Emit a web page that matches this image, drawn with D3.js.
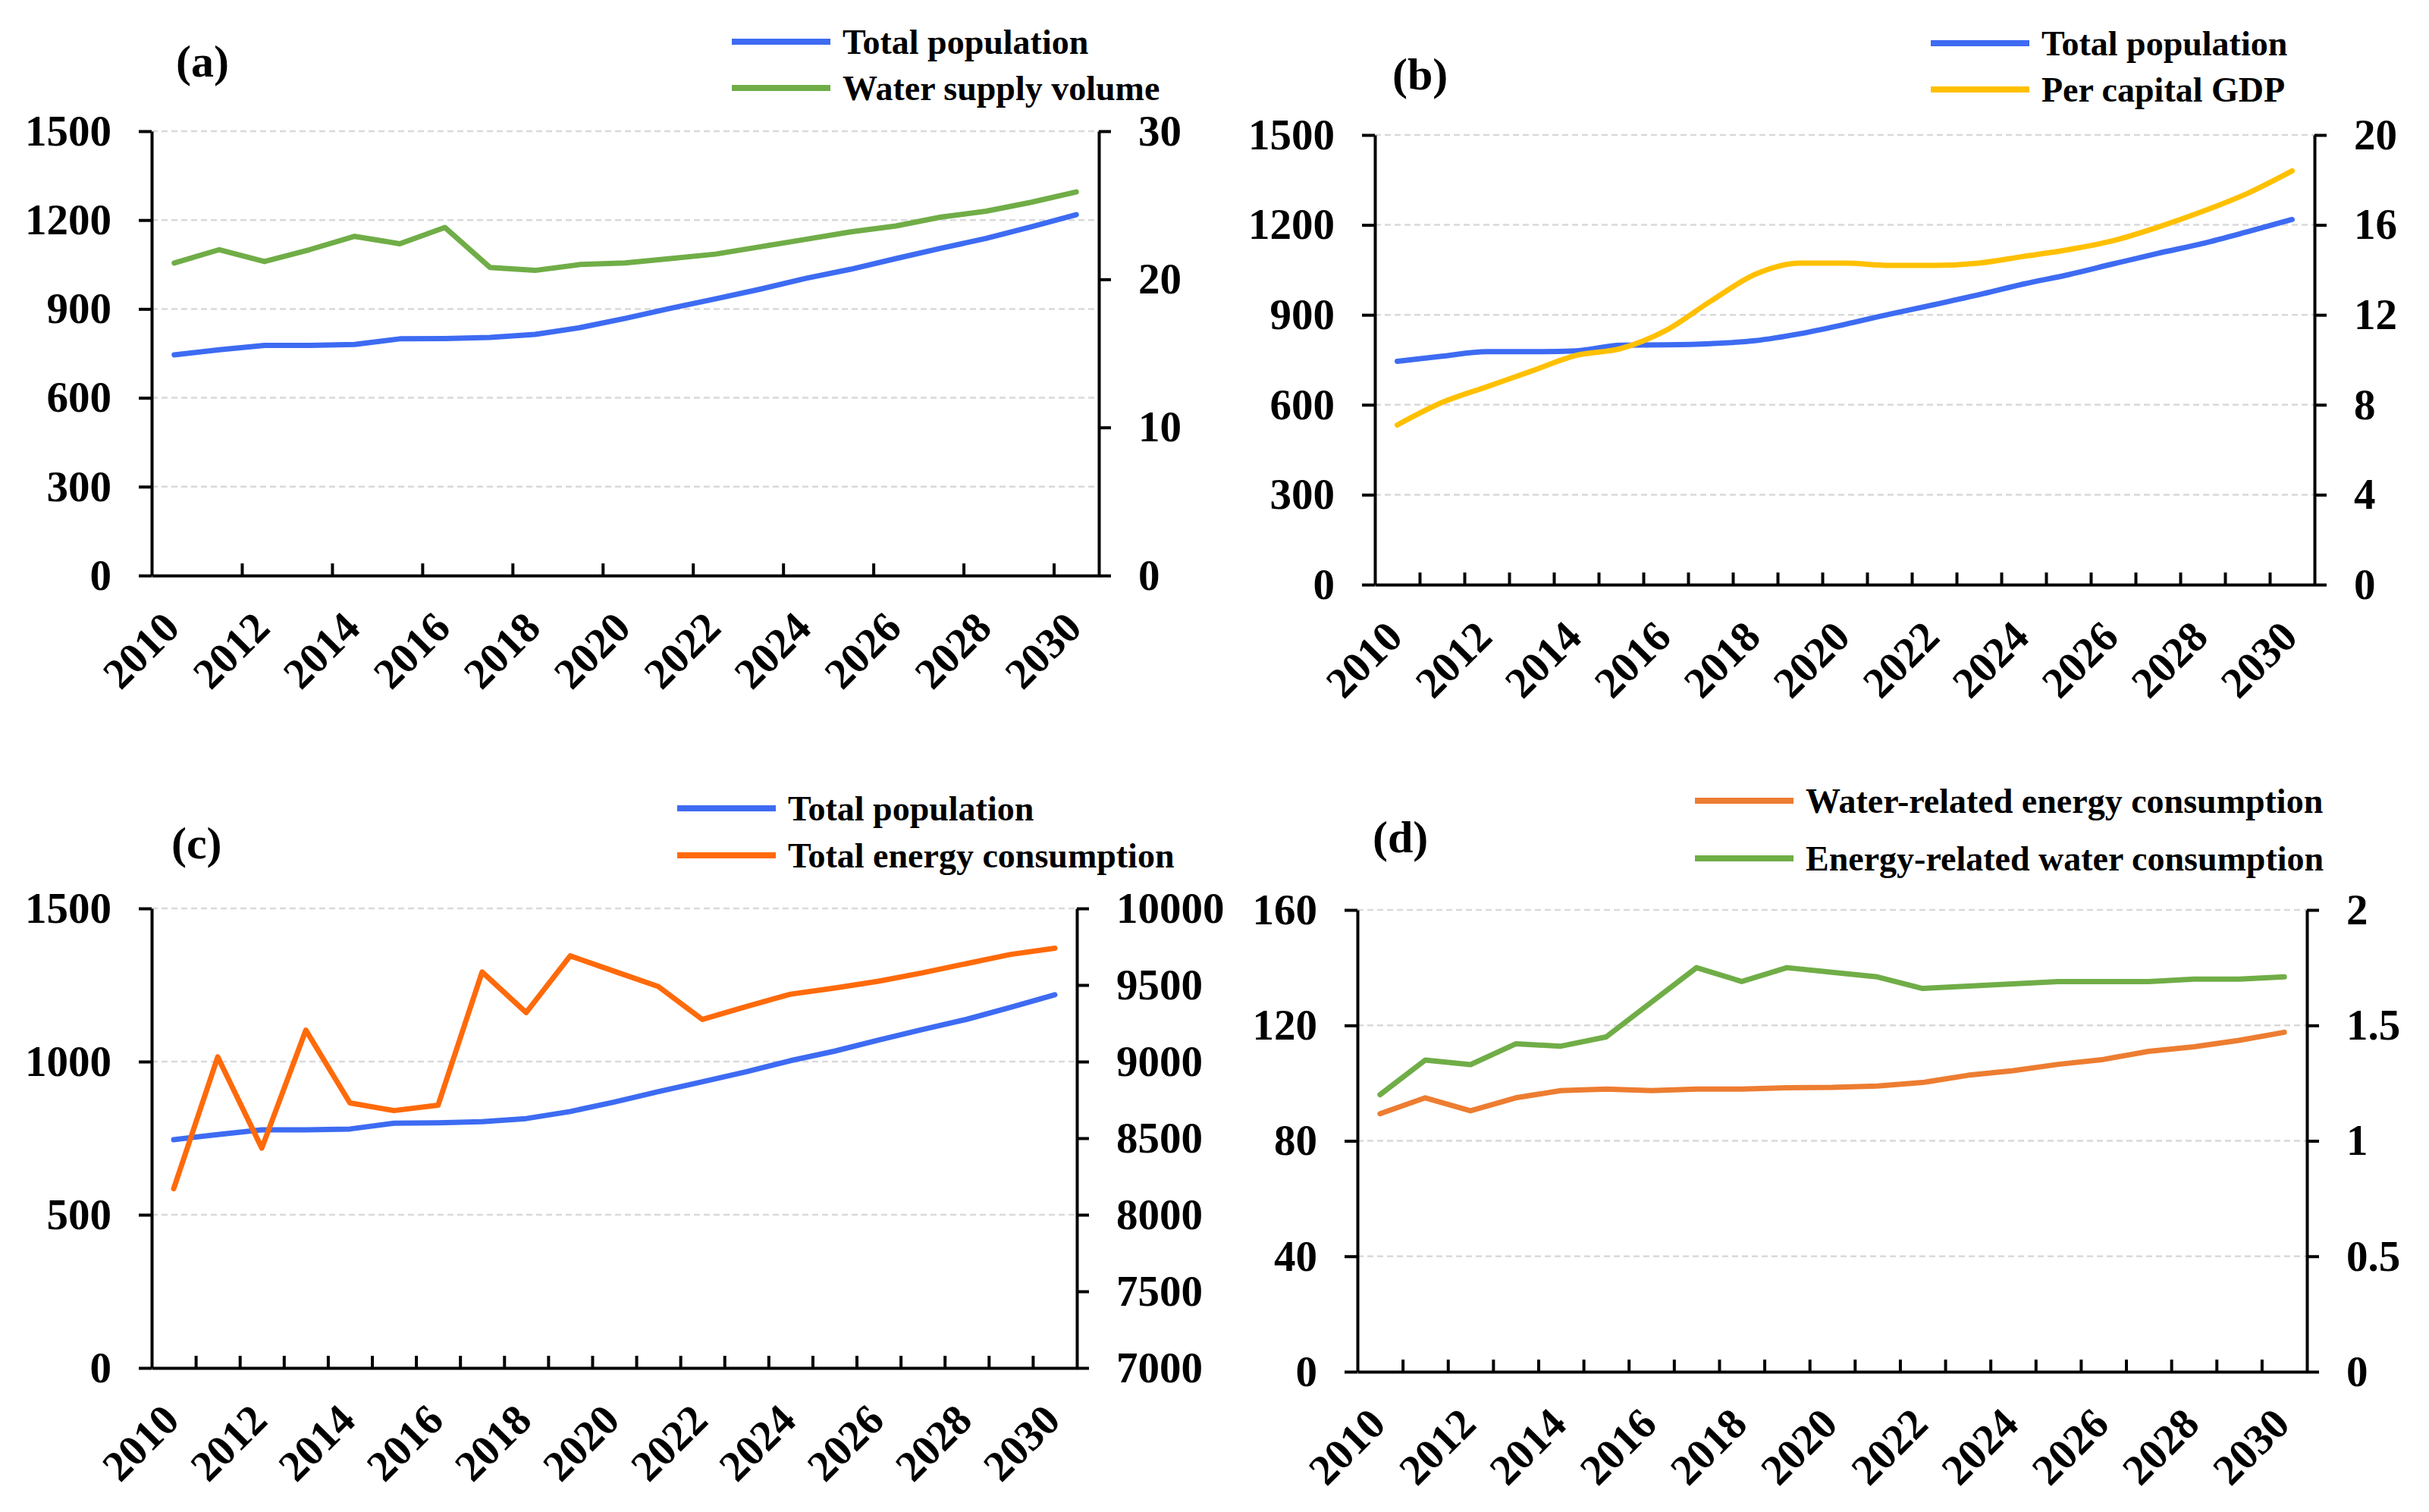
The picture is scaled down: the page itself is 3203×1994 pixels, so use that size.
<!DOCTYPE html>
<html>
<head>
<meta charset="utf-8">
<script src="https://cdn.jsdelivr.net/npm/d3@7"></script>
<style>
  body { margin: 0; background: #fff; }
  text { font-family: 'Liberation Serif', 'Times New Roman', serif; font-weight: bold; fill: #000; }
</style>
</head>
<body>
<div id="chart"></div>
<script>
var width = 3203;
var height = 1994;

// data
var years = [2010, 2011, 2012, 2013, 2014, 2015, 2016, 2017, 2018, 2019, 2020,
             2021, 2022, 2023, 2024, 2025, 2026, 2027, 2028, 2029, 2030];
var yearLabels = [2010, 2012, 2014, 2016, 2018, 2020, 2022, 2024, 2026, 2028, 2030];

var totalPopulation = [745, 762, 777, 777, 780, 799, 800, 804, 814, 837, 868,
                       902, 934, 967, 1003, 1034, 1070, 1105, 1138, 1177, 1218];
var waterSupplyVolume = [21.1, 22.0, 21.2, 22.0, 22.9, 22.4, 23.5, 20.8, 20.6, 21.0, 21.1,
                         21.4, 21.7, 22.2, 22.7, 23.2, 23.6, 24.2, 24.6, 25.2, 25.9];
var perCapitaGDP = [7.1, 8.1, 8.8, 9.5, 10.2, 10.5, 11.3, 12.6, 13.8, 14.3, 14.3,
                    14.2, 14.2, 14.3, 14.6, 14.9, 15.3, 15.9, 16.6, 17.4, 18.4];
var totalEnergy = [8170, 9030, 8435, 9205, 8730, 8680, 8715, 9585, 9320, 9690, 9590,
                   9490, 9275, 9360, 9440, 9480, 9525, 9580, 9640, 9700, 9740];
var waterRelatedEnergy = [89.4, 94.9, 90.4, 94.9, 97.4, 97.9, 97.4, 97.9, 97.9, 98.4, 98.5,
                          99.0, 100.2, 102.7, 104.3, 106.5, 108.2, 111.0, 112.6, 114.8, 117.6];
var energyRelatedWater = [1.20, 1.35, 1.33, 1.42, 1.41, 1.45, 1.60, 1.75, 1.69, 1.75, 1.73,
                          1.71, 1.66, 1.67, 1.68, 1.69, 1.69, 1.69, 1.70, 1.70, 1.71];

// axis ticks
var popTicks = [0, 300, 600, 900, 1200, 1500];
var waterTicks = [0, 10, 20, 30];
var gdpTicks = [0, 4, 8, 12, 16, 20];
var popTicksC = [0, 500, 1000, 1500];
var energyTicks = [7000, 7500, 8000, 8500, 9000, 9500, 10000];
var wreTicks = [0, 40, 80, 120, 160];
var erwTicks = [0, 0.5, 1, 1.5, 2];

var blue = '#3d6bf2';
var green = '#70ad47';
var yellow = '#ffc000';
var orange = '#ff6a0a';
var orange2 = '#ed7d31';

var svg = d3.select('#chart')
  .append('svg')
  .attr('width', width)
  .attr('height', height);

var panels = [
  {
    tag: '(a)', tagX: 232, tagY: 80,
    left: 200, right: 1449, top: 173, bottom: 759,
    leftTicks: popTicks, rightTicks: waterTicks, xTicks: [2, 4, 6, 8, 10, 12, 14, 16, 18, 20],
    legX: 965, legY: [55, 116], curve: d3.curveLinear,
    series: [
      { name: 'Total population', values: totalPopulation, axis: 'L', color: blue },
      { name: 'Water supply volume', values: waterSupplyVolume, axis: 'R', color: green }
    ]
  },
  {
    tag: '(b)', tagX: 1836, tagY: 97,
    left: 1813, right: 3052, top: 178, bottom: 771,
    leftTicks: popTicks, rightTicks: gdpTicks, xTicks: d3.range(1, 21),
    legX: 2546, legY: [57, 118], curve: d3.curveMonotoneX,
    series: [
      { name: 'Total population', values: totalPopulation, axis: 'L', color: blue },
      { name: 'Per capital GDP', values: perCapitaGDP, axis: 'R', color: yellow }
    ]
  },
  {
    tag: '(c)', tagX: 226, tagY: 1111,
    left: 200, right: 1420, top: 1198, bottom: 1804,
    leftTicks: popTicksC, rightTicks: energyTicks, xTicks: d3.range(1, 21),
    legX: 893, legY: [1066, 1128], curve: d3.curveLinear,
    series: [
      { name: 'Total population', values: totalPopulation, axis: 'L', color: blue },
      { name: 'Total energy consumption', values: totalEnergy, axis: 'R', color: orange }
    ]
  },
  {
    tag: '(d)', tagX: 1810, tagY: 1103,
    left: 1790, right: 3042, top: 1200, bottom: 1809,
    leftTicks: wreTicks, rightTicks: erwTicks, xTicks: d3.range(1, 21),
    legX: 2235, legY: [1056, 1132], curve: d3.curveLinear,
    series: [
      { name: 'Water-related energy consumption', values: waterRelatedEnergy, axis: 'L', color: orange2 },
      { name: 'Energy-related water consumption', values: energyRelatedWater, axis: 'R', color: green }
    ]
  }
];

var styleAxis = (g) => {
  g.selectAll('.domain').attr('stroke', '#000').attr('stroke-width', 4);
  g.selectAll('.tick line').attr('stroke', '#000').attr('stroke-width', 4);
  g.selectAll('.tick text').attr('font-size', 57).attr('fill', '#000');
};

var plain = d3.format('');

var drawPanel = (p) => {
  var g = svg.append('g');

  var xBand = d3.scaleBand().domain(years).range([p.left, p.right]).padding(0);
  var xEdge = d3.scaleLinear().domain([0, years.length]).range([p.left, p.right]);
  var yL = d3.scaleLinear().domain(d3.extent(p.leftTicks)).range([p.bottom, p.top]);
  var yR = d3.scaleLinear().domain(d3.extent(p.rightTicks)).range([p.bottom, p.top]);

  // gridlines
  g.append('g').selectAll('line')
    .data(p.leftTicks.slice(1))
    .enter()
    .append('line')
    .attr('x1', p.left).attr('x2', p.right)
    .attr('y1', d => yL(d)).attr('y2', d => yL(d))
    .attr('stroke', '#d9d9d9')
    .attr('stroke-width', 2.5)
    .attr('stroke-dasharray', '8,5');

  // lines
  p.series.forEach((s) => {
    var y = s.axis == 'L' ? yL : yR;
    var line = d3.line()
      .x((d, i) => xBand(years[i]) + xBand.bandwidth() / 2)
      .y(d => y(d))
      .curve(p.curve);
    g.append('path')
      .datum(s.values)
      .attr('d', line)
      .attr('fill', 'none')
      .attr('stroke', s.color)
      .attr('stroke-width', 7)
      .attr('stroke-linejoin', 'round')
      .attr('stroke-linecap', 'round');
  });

  // axes
  g.append('g')
    .attr('transform', 'translate(' + p.left + ',0)')
    .call(d3.axisLeft(yL).tickValues(p.leftTicks).tickSize(17).tickSizeOuter(0).tickPadding(36)
      .tickFormat(plain))
    .call(styleAxis);

  g.append('g')
    .attr('transform', 'translate(' + p.right + ',0)')
    .call(d3.axisRight(yR).tickValues(p.rightTicks).tickSize(16).tickSizeOuter(0).tickPadding(36)
      .tickFormat(plain))
    .call(styleAxis);

  g.append('g')
    .attr('transform', 'translate(0,' + p.bottom + ')')
    .call(d3.axisBottom(xEdge).tickValues(p.xTicks).tickSize(-16).tickSizeOuter(0).tickFormat(''))
    .call(styleAxis);

  var xl = g.append('g')
    .attr('transform', 'translate(0,' + p.bottom + ')')
    .call(d3.axisBottom(xBand).tickValues(yearLabels).tickSize(0));
  xl.select('.domain').remove();
  xl.selectAll('.tick text')
    .attr('font-size', 57)
    .attr('fill', '#000')
    .attr('text-anchor', 'end')
    .attr('x', 0).attr('y', 0).attr('dy', 0)
    .attr('transform', 'translate(10,72) rotate(-45)');

  // legend
  p.series.forEach((s, i) => {
    g.append('line')
      .attr('x1', p.legX).attr('x2', p.legX + 130)
      .attr('y1', p.legY[i]).attr('y2', p.legY[i])
      .attr('stroke', s.color)
      .attr('stroke-width', 8);
    g.append('text')
      .attr('x', p.legX + 146)
      .attr('y', p.legY[i])
      .attr('dy', '0.35em')
      .attr('font-size', 46)
      .text(s.name);
  });

  g.append('text')
    .attr('x', p.tagX)
    .attr('y', p.tagY)
    .attr('dy', '0.35em')
    .attr('font-size', 60)
    .text(p.tag);
};

panels.forEach(drawPanel);
</script>
</body>
</html>
